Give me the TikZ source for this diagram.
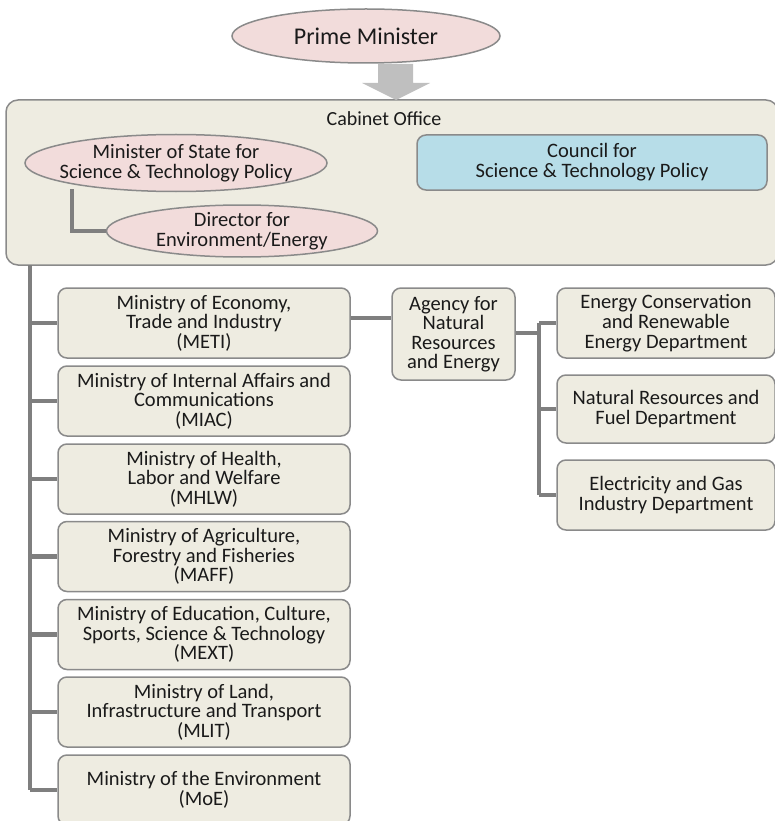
\documentclass[tikz,border=0pt]{standalone}
\usepackage{fontspec}
\setmainfont{Carlito}
\usetikzlibrary{shapes.geometric}
\definecolor{boxfill}{HTML}{EEECE1}
\definecolor{boxline}{HTML}{8A8A8A}
\definecolor{pinkfill}{HTML}{F2DCDB}
\definecolor{bluefill}{HTML}{B7DDE8}
\definecolor{connc}{HTML}{7F7F7F}
\definecolor{arrowc}{HTML}{BFBFBF}
\definecolor{txt}{HTML}{1A1A1A}
\begin{document}
\begin{tikzpicture}[x=1pt,y=-1pt,
  every node/.style={text=txt},
  tbox/.style={draw=boxline,line width=1.5pt,fill=boxfill,rounded corners=9pt,align=center,
    font=\fontsize{20.5}{19.5}\selectfont,inner sep=0pt},
  ell/.style={ellipse,draw=boxline,line width=1.5pt,fill=pinkfill,inner sep=0pt},
  elltext/.style={align=center,inner sep=0pt,font=\fontsize{20.5}{20}\selectfont},
  conn/.style={draw=connc,line width=4.5pt},
  ministry/.style={tbox,minimum width=292pt,minimum height=70pt}
]
\useasboundingbox (0,0) rectangle (774,821);

% Prime Minister
\node[ell,minimum width=268pt,minimum height=54pt] (pm) at (366,36) {};
\node[elltext,font=\fontsize{24}{28}\selectfont] (pmt) at (pm) {Prime Minister};

% Cabinet office
\node[tbox,minimum width=772pt,minimum height=165pt,rounded corners=12pt] (cab) at (392,182.5) {};
\node[font=\fontsize{20}{24}\selectfont] (cabt) at (384,119) {Cabinet Office};

% big arrow from PM to Cabinet Office
\fill[arrowc] (378,64) -- (413,64) -- (413,83) -- (430,83) -- (396,100) -- (362,83) -- (378,83) -- cycle;

\node[ell,minimum width=302pt,minimum height=57pt] (mos) at (176,163) {};
\node[elltext] (most) at (mos) {Minister of State for\\Science \& Technology Policy};
\node[ell,minimum width=271pt,minimum height=52pt] (dir) at (242,231) {};
\node[elltext] (dirt) at (dir) {Director for\\Environment/Energy};
\node[tbox,fill=bluefill,minimum width=350pt,minimum height=55pt,font=\fontsize{20.5}{20}\selectfont] (csp) at (592,162.5) {Council for\\Science \& Technology Policy};

\coordinate (mosb) at (72,189);
\draw[conn] (mosb) |- (dir.west);

% ministries
\node[ministry] (m1) at (204,323) {Ministry of Economy,\\Trade and Industry\\(METI)};
\node[ministry] (m2) at (204,401) {Ministry of Internal Affairs and\\Communications\\(MIAC)};
\node[ministry] (m3) at (204,479) {Ministry of Health,\\Labor and Welfare\\(MHLW)};
\node[ministry] (m4) at (204,556.5) {Ministry of Agriculture,\\Forestry and Fisheries\\(MAFF)};
\node[ministry] (m5) at (204,634.5) {Ministry of Education, Culture,\\Sports, Science \& Technology\\(MEXT)};
\node[ministry] (m6) at (204,712) {Ministry of Land,\\Infrastructure and Transport\\(MLIT)};
\node[ministry] (m7) at (204,790) {Ministry of the Environment\\(MoE)};

\coordinate (trunk) at (30,265);
\draw[conn] (trunk) -- (trunk |- m7.west);
\foreach \m in {m1,m2,m3,m4,m5,m6,m7} {\draw[conn] (trunk |- \m.west) -- (\m.west);}

% agency
\node[tbox,minimum width=123pt,minimum height=92pt] (ag) at (453.5,334) {Agency for\\Natural\\Resources\\and Energy};
\draw[conn] (m1.east |- 0,318) -- (ag.west |- 0,318);

% departments
\node[tbox,minimum width=218pt,minimum height=70pt,font=\fontsize{20.5}{20}\selectfont] (d1) at (666,323) {Energy Conservation\\and Renewable\\Energy Department};
\node[tbox,minimum width=218pt,minimum height=68pt,font=\fontsize{20.5}{20}\selectfont] (d2) at (666,409) {Natural Resources and\\Fuel Department};
\node[tbox,minimum width=218pt,minimum height=70pt,font=\fontsize{20.5}{20}\selectfont] (d3) at (666,495) {Electricity and Gas\\Industry Department};

\coordinate (dv) at (539,333);
\draw[conn] (ag.east |- dv) -- (dv);
\draw[conn] (dv |- d1.west) -- (dv |- d3.west);
\foreach \d in {d1,d2,d3} {\draw[conn] (dv |- \d.west) -- (\d.west);}
\end{tikzpicture}
\end{document}
